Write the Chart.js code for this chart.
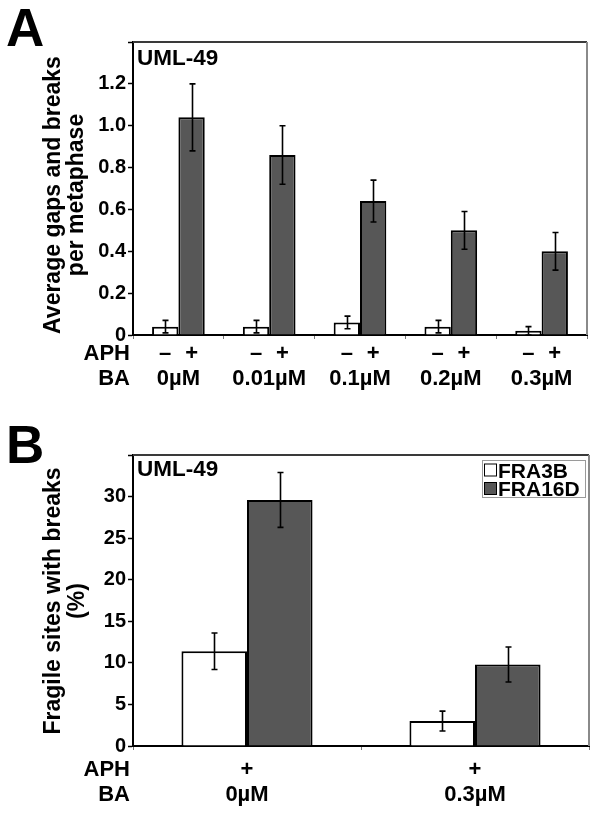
<!DOCTYPE html>
<html><head><meta charset="utf-8">
<script src="https://cdn.jsdelivr.net/npm/chart.js@4.4.0/dist/chart.umd.min.js"></script>
<style>
html,body{margin:0;padding:0;background:#fff;overflow:hidden;}
#wrapA{position:absolute;left:0;top:0;width:599px;height:405px;}
#wrapB{position:absolute;left:0;top:405px;width:599px;height:409px;}
</style></head><body>
<div id="wrapA"><canvas id="cA" width="599" height="405"></canvas></div>
<div id="wrapB"><canvas id="cB" width="599" height="409"></canvas></div>
<script>
// ---- Panel A data ----
const concA = ['0µM', '0.01µM', '0.1µM', '0.2µM', '0.3µM'];
const aphSignsA = ['–', '+'];
const noAphA = [0.04, 0.04, 0.06, 0.04, 0.02];
const noAphErrA = [0.03, 0.03, 0.03, 0.03, 0.02];
const aphA = [1.04, 0.86, 0.64, 0.50, 0.40];
const aphErrA = [0.16, 0.14, 0.10, 0.09, 0.09];
const yTitleA = ['Average gaps and breaks', 'per metaphase'];

// ---- Panel B data ----
const concB = ['0µM', '0.3µM'];
const aphSignsB = ['+', '+'];
const seriesNamesB = ['FRA3B', 'FRA16D'];
const fra3b = [11.4, 3.0];
const fra3bErr = [2.2, 1.2];
const fra16d = [29.6, 9.8];
const fra16dErr = [3.3, 2.1];
const yTitleB = ['Fragile sites with breaks', '(%)'];

const cellLine = 'UML-49';
const FONT = '"Liberation Sans", Arial, Helvetica, sans-serif';
const DARK = '#575757';

Chart.defaults.font.family = FONT;
Chart.defaults.color = '#000';

function annotPlugin(cfg) {
  return {
    id: 'annot',
    beforeDatasetsDraw(chart) {
      const ctx = chart.ctx, a = chart.chartArea;
      ctx.save();
      ctx.lineWidth = 2;
      ctx.strokeStyle = '#3a3a3a';
      ctx.beginPath(); ctx.moveTo(a.left, a.top); ctx.lineTo(a.right, a.top); ctx.stroke();
      ctx.strokeStyle = '#8a8a8a';
      ctx.beginPath(); ctx.moveTo(a.right, a.top); ctx.lineTo(a.right, a.bottom); ctx.stroke();
      ctx.restore();
    },
    afterDatasetsDraw(chart) {
      const ctx = chart.ctx, ys = chart.scales.y;
      ctx.save();
      ctx.strokeStyle = '#000';
      ctx.lineWidth = 1.6;
      cfg.errors.forEach((errs, di) => {
        const meta = chart.getDatasetMeta(di);
        const vals = chart.data.datasets[di].data;
        meta.data.forEach((el, i) => {
          const x = Math.round(el.x) + 0.5;
          const t = ys.getPixelForValue(vals[i] + errs[i]);
          const b = ys.getPixelForValue(Math.max(vals[i] - errs[i], 0));
          ctx.beginPath();
          ctx.moveTo(x, t); ctx.lineTo(x, b);
          ctx.moveTo(x - 3, t); ctx.lineTo(x + 3, t);
          ctx.moveTo(x - 3, b); ctx.lineTo(x + 3, b);
          ctx.stroke();
        });
      });
      ctx.restore();
    },
    afterDraw(chart) {
      const ctx = chart.ctx, a = chart.chartArea, xs = chart.scales.x;
      ctx.save();
      ctx.fillStyle = '#000';
      // panel letter
      ctx.font = 'bold 53px ' + FONT;
      ctx.textAlign = 'left'; ctx.textBaseline = 'alphabetic';
      ctx.fillText(cfg.letter, 6, cfg.letterY);
      // cell line
      ctx.font = 'bold 22.5px ' + FONT;
      ctx.fillText(cellLine, a.left + 4, cfg.cellY);
      // y title
      ctx.font = 'bold 23px ' + FONT;
      ctx.textAlign = 'center'; ctx.textBaseline = 'middle';
      cfg.title.forEach((line, i) => {
        ctx.save();
        ctx.translate(cfg.titleX[i], cfg.titleY);
        ctx.rotate(-Math.PI / 2);
        ctx.fillText(line, 0, 0);
        ctx.restore();
      });
      // row labels
      ctx.font = 'bold 22px ' + FONT;
      ctx.textAlign = 'right';
      ctx.fillText('APH', 130, cfg.aphY);
      ctx.fillText('BA', 130, cfg.baY);
      // APH signs
      ctx.textAlign = 'center';
      if (cfg.perBarSigns) {
        cfg.perBarSigns.forEach((s, di) => {
          chart.getDatasetMeta(di).data.forEach(el => ctx.fillText(s, el.x, cfg.aphY));
        });
      } else if (cfg.catSigns) {
        cfg.catSigns.forEach((s, i) => ctx.fillText(s, xs.getPixelForValue(i), cfg.aphY));
      }
      // category (BA concentration) labels, centred on each category of the x scale
      chart.data.labels.forEach((lab, i) => ctx.fillText(lab, xs.getPixelForValue(i), cfg.baY));
      // legend
      if (cfg.legend) {
        const L = cfg.legend;
        ctx.strokeStyle = '#9a9a9a'; ctx.lineWidth = 1;
        ctx.strokeRect(L.x + 0.5, L.y + 0.5, L.w, L.h);
        ctx.font = 'bold 21px ' + FONT;
        ctx.textAlign = 'left'; ctx.textBaseline = 'alphabetic';
        chart.data.datasets.forEach((ds, i) => {
          const ry = L.y + 4 + i * 18.5;
          ctx.fillStyle = ds.backgroundColor;
          ctx.fillRect(L.x + 2.5, ry, 12, 12);
          ctx.strokeStyle = '#000'; ctx.lineWidth = 1;
          ctx.strokeRect(L.x + 2.5, ry, 12, 12);
          ctx.fillStyle = '#000';
          ctx.fillText(ds.label, L.x + 16, ry + 13.5);
        });
      }
      ctx.restore();
    }
  };
}

function makeOptions(opt) {
  return {
    responsive: false,
    devicePixelRatio: 1,
    animation: false,
    layout: { padding: { top: opt.padTop, right: opt.padRight, left: 0, bottom: 0 } },
    plugins: { legend: { display: false }, tooltip: { enabled: false } },
    scales: {
      x: {
        offset: true,
        grid: { offset: true, drawOnChartArea: false, drawTicks: true, tickLength: 4, color: '#777' },
        border: { color: '#000', width: 2 },
        ticks: { display: false },
        afterFit(s) { s.height = opt.xHeight; }
      },
      y: {
        min: 0, max: opt.yMax,
        grid: { drawOnChartArea: false, tickLength: 5, color: '#000', tickWidth: 1.5 },
        border: { color: '#000', width: 2 },
        ticks: {
          stepSize: opt.step, padding: 2, font: { size: 20, weight: 'bold' }, color: '#000',
          callback: opt.tickCb
        },
        afterFit(s) { s.width = 133; }
      }
    }
  };
}

new Chart(document.getElementById('cA'), {
  type: 'bar',
  data: {
    labels: concA,
    datasets: [
      { label: 'no APH', data: noAphA, backgroundColor: '#ffffff', borderColor: '#000', borderWidth: 2, categoryPercentage: 0.58, barPercentage: 1 },
      { label: 'APH', data: aphA, backgroundColor: DARK, borderColor: '#000', borderWidth: 2, categoryPercentage: 0.58, barPercentage: 1 }
    ]
  },
  options: makeOptions({
    padTop: 42, padRight: 12, xHeight: 70, yMax: 1.4, step: 0.2,
    tickCb: v => { v = Math.round(v * 10) / 10; return v === 0 ? '0' : (v >= 1.35 ? '' : v.toFixed(1)); }
  }),
  plugins: [annotPlugin({
    letter: 'A', letterY: 46, cellY: 65,
    title: yTitleA, titleX: [54, 77], titleY: 195,
    aphY: 354, baY: 379,
    perBarSigns: aphSignsA,
    errors: [noAphErrA, aphErrA]
  })]
});

new Chart(document.getElementById('cB'), {
  type: 'bar',
  data: {
    labels: concB,
    datasets: [
      { label: seriesNamesB[0], data: fra3b, backgroundColor: '#ffffff', borderColor: '#000', borderWidth: 2, categoryPercentage: 0.575, barPercentage: 1 },
      { label: seriesNamesB[1], data: fra16d, backgroundColor: DARK, borderColor: '#000', borderWidth: 2, categoryPercentage: 0.575, barPercentage: 1 }
    ]
  },
  options: makeOptions({
    padTop: 50, padRight: 10, xHeight: 68, yMax: 35, step: 5,
    tickCb: v => (v >= 35 ? '' : String(v))
  }),
  plugins: [annotPlugin({
    letter: 'B', letterY: 58, cellY: 71,
    title: yTitleB, titleX: [54, 78], titleY: 196,
    aphY: 365, baY: 390,
    catSigns: aphSignsB,
    legend: { x: 482, y: 55, w: 103, h: 37 },
    errors: [fra3bErr, fra16dErr]
  })]
});
</script>
</body></html>
